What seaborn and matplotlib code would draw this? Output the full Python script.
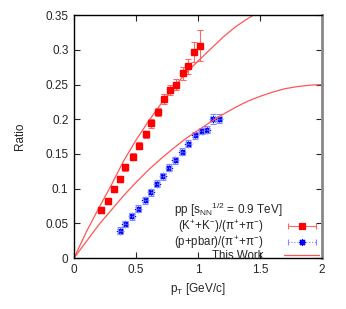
import numpy as np
import pandas as pd
import matplotlib
matplotlib.use("Agg")
import matplotlib.pyplot as plt
import seaborn as sns
from matplotlib.lines import Line2D
from matplotlib.collections import LineCollection
from matplotlib.container import ErrorbarContainer
from matplotlib.legend_handler import HandlerErrorbar

# (K+ + K-)/(pi+ + pi-) points
k_pt = [0.218, 0.27, 0.32, 0.37, 0.414, 0.473, 0.524, 0.58, 0.624, 0.675,
        0.723, 0.774, 0.823, 0.882, 0.922, 0.970, 1.019]
k_ratio = [0.069, 0.082, 0.099, 0.114, 0.131, 0.146, 0.162, 0.178, 0.194, 0.210,
           0.229, 0.242, 0.250, 0.266, 0.276, 0.297, 0.306]
k_err = [0.004, 0.004, 0.004, 0.004, 0.005, 0.005, 0.005, 0.005, 0.006, 0.006,
         0.007, 0.007, 0.008, 0.009, 0.011, 0.014, 0.022]

# (p + pbar)/(pi+ + pi-) points
p_pt = [0.371, 0.411, 0.465, 0.519, 0.573, 0.618, 0.667, 0.715, 0.763, 0.817,
        0.871, 0.919, 0.976, 1.03, 1.07, 1.12, 1.17]
p_ratio = [0.039, 0.049, 0.060, 0.071, 0.083, 0.095, 0.107, 0.118, 0.130, 0.141,
           0.153, 0.165, 0.177, 0.183, 0.185, 0.200, 0.201]
p_err = [0.005, 0.005, 0.005, 0.005, 0.005, 0.005, 0.005, 0.005, 0.005, 0.005,
         0.005, 0.005, 0.005, 0.005, 0.005, 0.007, 0.007]

# "This Work" model curves
kcurve_pt = [0.0, 0.1, 0.2, 0.3, 0.4, 0.5, 0.6, 0.7, 0.8, 0.9, 1.0, 1.1, 1.2,
             1.3, 1.4, 1.5]
kcurve_val = [0.0, 0.038, 0.072, 0.105, 0.140, 0.170, 0.197, 0.222, 0.245,
              0.266, 0.284, 0.301, 0.318, 0.333, 0.345, 0.356]
pcurve_pt = [0.0, 0.1, 0.2, 0.3, 0.4, 0.5, 0.6, 0.7, 0.8, 0.9, 1.0, 1.1, 1.2,
             1.3, 1.4, 1.5, 1.6, 1.7, 1.8, 1.9, 2.0]
pcurve_val = [0.0, 0.024, 0.048, 0.069, 0.090, 0.109, 0.127, 0.143, 0.158,
              0.172, 0.184, 0.196, 0.207, 0.217, 0.226, 0.233, 0.239, 0.244,
              0.247, 0.249, 0.250]

k_label = r"(K$^{+}$+K$^{-}$)/($\pi^{+}$+$\pi^{-}$)"
p_label = r"(p+pbar)/($\pi^{+}$+$\pi^{-}$)"

sns.set_style("ticks")
plt.rcParams["font.family"] = ["Liberation Sans", "DejaVu Sans"]
plt.rcParams["mathtext.fontset"] = "custom"
plt.rcParams["mathtext.rm"] = "Liberation Sans"
plt.rcParams["mathtext.it"] = "Liberation Sans"

fig = plt.figure(figsize=(3.46, 3.09), dpi=100)
ax = fig.add_axes([0.214, 0.165, 0.717, 0.786])

red_line = "#ff5555"
red_err = "#ff6666"
blue_err = "#7f8cff"
kc = pd.DataFrame({"pt": kcurve_pt, "val": kcurve_val})
pc = pd.DataFrame({"pt": pcurve_pt, "val": pcurve_val})

ax.errorbar(k_pt, k_ratio, yerr=k_err, fmt="s", color="red", ms=5,
            ecolor=red_err, elinewidth=0.8, capsize=2.5, capthick=0.8)
p_eb = ax.errorbar(p_pt, p_ratio, yerr=p_err, xerr=0.02, fmt="none",
                   ecolor=blue_err, elinewidth=0.8, capsize=2.5, capthick=0.8)
for c in p_eb[2]:
    c.set_linestyle(":")
sns.scatterplot(x=p_pt, y=p_ratio, ax=ax, marker=(8, 2, 0), s=20,
                color="blue", linewidth=0.9, legend=False)
sns.lineplot(data=kc, x="pt", y="val", ax=ax, color=red_line, lw=0.9)
sns.lineplot(data=pc, x="pt", y="val", ax=ax, color=red_line, lw=0.9)

ax.set_xlim(0, 2)
ax.set_ylim(0, 0.35)
ax.set_xticks([0, 0.5, 1, 1.5, 2])
ax.set_xticklabels(["0", "0.5", "1", "1.5", "2"])
ax.set_yticks(np.arange(0, 0.351, 0.05))
ax.set_yticklabels(["0", "0.05", "0.1", "0.15", "0.2", "0.25", "0.3", "0.35"])
ax.tick_params(direction="in", length=4, width=0.8, top=True, right=True,
               labelsize=8.5, pad=4)
ax.set_xlabel(r"p$_{\rm T}$ [GeV/c]", fontsize=8.5)
ax.set_ylabel("Ratio", fontsize=8.5, labelpad=14)
for s in ["left", "top", "bottom"]:
    ax.spines[s].set_linewidth(1.0)
    ax.spines[s].set_color("black")
ax.spines["right"].set_linewidth(2.0)
ax.spines["right"].set_color("#888888")

# legend, gnuplot style: text first, horizontal error-bar sample on the right
def legend_sample(marker, mcolor, ecolor, ls):
    line = Line2D([], [], marker=marker, color=mcolor, ls="none", ms=5,
                  mew=0.9)
    bar = LineCollection([], colors=[ecolor], linewidths=0.8, linestyles=ls)
    cap = Line2D([], [], color=ecolor, lw=0.8, marker="|", ms=5, mew=0.8,
                 ls="none")
    return ErrorbarContainer((line, (cap,), (bar,)), has_xerr=True,
                             has_yerr=False)

k_handle = legend_sample("s", "red", red_err, "-")
p_handle = legend_sample((8, 2, 0), "blue", blue_err, ":")
work = Line2D([], [], color=red_line, lw=0.9)
leg = ax.legend([k_handle, p_handle, work], [k_label, p_label, "This Work"],
                loc="lower right", bbox_to_anchor=(1.02, -0.05),
                frameon=False, markerfirst=False, fontsize=8.3,
                title=r"pp [s$_{\rm NN}$$^{1/2}$ = 0.9 TeV]", title_fontsize=8.5,
                alignment="left",
                handlelength=3.0, labelspacing=-0.08, borderpad=0.2,
                handletextpad=1.8,
                handler_map={ErrorbarContainer: HandlerErrorbar(xerr_size=1.2)})

fig.savefig("out.png", dpi=100)
